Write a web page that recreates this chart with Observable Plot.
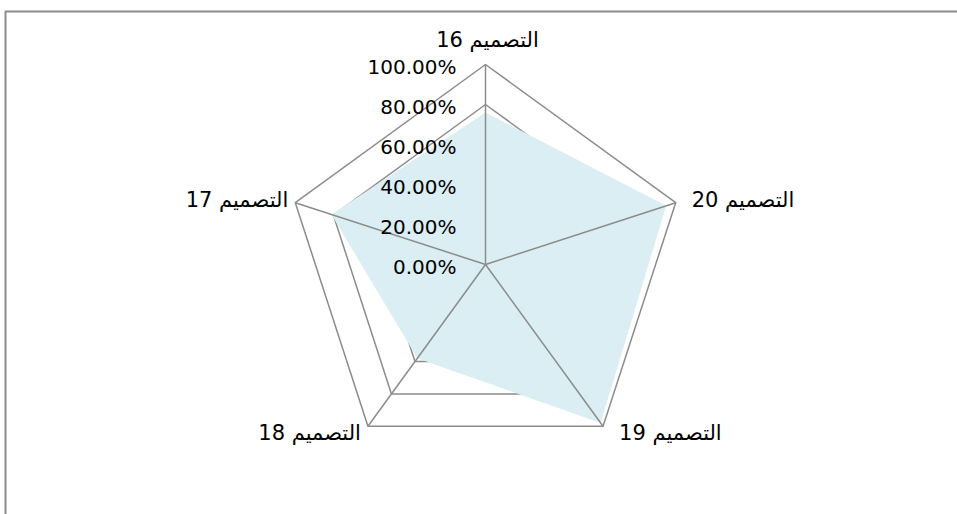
<!DOCTYPE html>
<html><head><meta charset="utf-8">
<script src="https://cdn.jsdelivr.net/npm/d3@7"></script>
<script src="https://cdn.jsdelivr.net/npm/@observablehq/plot@0.6"></script>
<style>body{margin:0;background:#fff}</style>
</head><body><div id="chart"></div>
<script>
const categories = ["التصميم 16", "التصميم 20", "التصميم 19", "التصميم 18", "التصميم 17"];
const values = [0.76, 0.95, 0.98, 0.58, 0.81];
const ticks = [0, 0.2, 0.4, 0.6, 0.8, 1.0];
const tickLabels = ["0.00%", "20.00%", "40.00%", "60.00%", "80.00%", "100.00%"];

const n = categories.length;
const angle = i => Math.PI / 2 - i * 2 * Math.PI / n;
const pt = (r, i) => [r * Math.cos(angle(i)), r * Math.sin(angle(i))];

const rings = ticks.filter(t => t > 0).flatMap(t =>
  categories.map((c, i) => ({ring: t, x: pt(t, i)[0], y: pt(t, i)[1]})));
const series = values.map((v, i) => ({x: pt(v, i)[0], y: pt(v, i)[1]}));
const spokes = categories.map((c, i) => ({x2: pt(1, i)[0], y2: pt(1, i)[1]}));

const xDomain = [-2.4, 2.36];
const yDomain = [-1.25, 1.265];
const grid = "#8c8c8c";

const labelMarks = categories.map((c, i) => {
  const ca = Math.cos(angle(i)), sa = Math.sin(angle(i));
  const anchor = ca > 0.1 ? "start" : ca < -0.1 ? "end" : "middle";
  const dx = anchor === "start" ? 16 : anchor === "end" ? -7 : 2;
  const dy = sa > 0.9 ? -24 : sa > 0 ? -2 : 7;
  const [x, y] = pt(1, i);
  return Plot.text([c], {x: () => x, y: () => y, text: d => d, textAnchor: anchor, dx, dy, fill: "#000", fontSize: 21});
});

const chart = Plot.plot({
  width: 957, height: 514,
  marginTop: 11, marginLeft: 5, marginRight: 0, marginBottom: 0,
  x: {domain: xDomain, axis: null},
  y: {domain: yDomain, axis: null},
  style: {fontFamily: "'DejaVu Sans', sans-serif", fontSize: "20px", background: "white"},
  marks: [
    Plot.ruleY([yDomain[1]], {stroke: grid, strokeWidth: 2}),
    Plot.ruleX([xDomain[0]], {stroke: grid, strokeWidth: 2}),
    Plot.line(rings, {x: "x", y: "y", z: "ring", curve: "linear-closed", stroke: grid, strokeWidth: 1.5}),
    Plot.line(series, {x: "x", y: "y", curve: "linear-closed", fill: "#DAEEF3", stroke: "none"}),
    Plot.link(spokes, {x1: () => 0, y1: () => 0, x2: "x2", y2: "y2", stroke: grid, strokeWidth: 1.5}),
    Plot.text(ticks, {x: () => -0.145, y: d => d, text: (d, i) => tickLabels[i], textAnchor: "end", dy: 3, fill: "#000"}),
    ...labelMarks
  ]
});
document.getElementById("chart").appendChild(chart);
</script>
</body></html>
